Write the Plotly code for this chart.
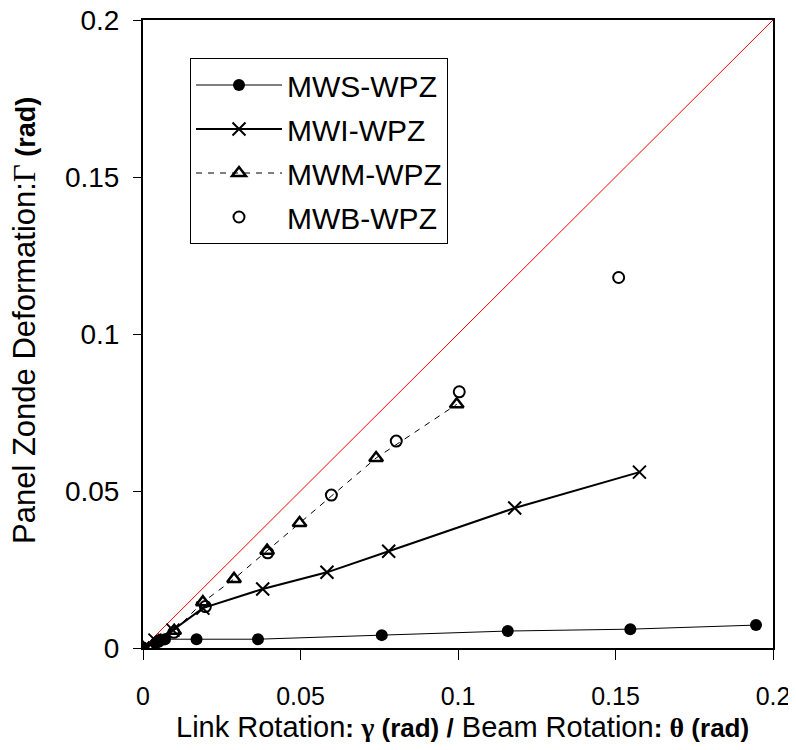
import plotly.graph_objects as go

# MWS-WPZ
mws_x = [0.0, 0.004, 0.007, 0.017, 0.0365, 0.0758, 0.1158, 0.1547, 0.1946]
mws_y = [0.0, 0.0015, 0.0028, 0.0028, 0.0028, 0.0041, 0.0054, 0.0060, 0.0073]
# MWI-WPZ
mwi_x = [0.0, 0.0038, 0.0095, 0.019, 0.038, 0.0584, 0.078, 0.118, 0.1576]
mwi_y = [0.0, 0.0025, 0.0057, 0.0127, 0.0188, 0.0241, 0.0308, 0.0446, 0.0560]
# MWM-WPZ
mwm_x = [0.0, 0.005, 0.0099, 0.019, 0.0289, 0.0394, 0.0497, 0.074, 0.0996]
mwm_y = [0.0, 0.0022, 0.0055, 0.0146, 0.0220, 0.0310, 0.0398, 0.0605, 0.0776]
# MWB-WPZ
mwb_x = [0.0, 0.005, 0.0098, 0.0198, 0.0396, 0.0598, 0.0804, 0.1004, 0.151]
mwb_y = [0.0, 0.0022, 0.0050, 0.0132, 0.0303, 0.0487, 0.0659, 0.0816, 0.118]
# reference line
ref_x = [0.0, 0.2]
ref_y = [0.0, 0.2]

x_ticks = [0, 0.05, 0.1, 0.15, 0.2]
y_ticks = [0, 0.05, 0.1, 0.15, 0.2]
tick_text = ["0", "0.05", "0.1", "0.15", "0.2"]

narrow = "Liberation Sans Narrow, Arial Narrow, sans-serif"
serif = "Liberation Serif, Times New Roman, serif"
BOLD = "<span style='font-family:Liberation Sans;font-size:26px'><b>{}</b></span>"
GREEK = "<span style='font-family:" + serif + ";font-size:28px'><b>{}</b></span>"
BOLD_Y = "<span style='font-family:Liberation Sans;font-size:27px'><b>{}</b></span>"

x_title = ("Link Rotation" + BOLD.format(": ") + GREEK.format("γ") + BOLD.format(" (rad) /")
           + " Beam Rotation" + BOLD.format(": ") + GREEK.format("θ") + BOLD.format(" (rad)"))
y_title = ("Panel Zonde Deformation:" + "<span style='font-family:" + serif + "'>Γ</span>"
           + BOLD_Y.format(" (rad)"))

fig = go.Figure()
fig.add_trace(go.Scatter(x=ref_x, y=ref_y, mode="lines", line=dict(color="red", width=1),
                         showlegend=False, hoverinfo="skip"))
fig.add_trace(go.Scatter(x=mws_x, y=mws_y, mode="lines+markers", name="MWS-WPZ", legendgroup="a",
                         line=dict(color="black", width=1),
                         marker=dict(symbol="circle", size=12, color="black")))
fig.add_trace(go.Scatter(x=mwi_x, y=mwi_y, mode="lines+markers", name="MWI-WPZ", legendgroup="b",
                         line=dict(color="black", width=2),
                         marker=dict(symbol="x-thin", size=13, color="black",
                                     line=dict(color="black", width=2))))
fig.add_trace(go.Scatter(x=mwm_x, y=mwm_y, mode="lines+markers", name="MWM-WPZ", legendgroup="c",
                         line=dict(color="black", width=1, dash="6px,6px"),
                         marker=dict(symbol="triangle-up-open", size=12, color="black",
                                     line=dict(color="black", width=2.5))))
fig.add_trace(go.Scatter(x=mwb_x, y=mwb_y, mode="markers", name="MWB-WPZ", legendgroup="d",
                         marker=dict(symbol="circle-open", size=11, color="black",
                                     line=dict(color="black", width=2))))

# page body adds an 8px offset: figure is 780x734, placed at (8, 8)
fig.update_layout(
    width=780, height=734,
    paper_bgcolor="white", plot_bgcolor="white",
    margin=dict(l=135, r=15, t=12, b=94, autoexpand=False),
    font=dict(family="Liberation Sans, Arial, sans-serif", color="black", size=22),
    legend=dict(x=(190 - 143) / 630, y=(648 - 58) / 628, xanchor="left", yanchor="top",
                bgcolor="white", bordercolor="black", borderwidth=1,
                font=dict(size=30), itemwidth=86, tracegroupgap=2,
                itemsizing="trace"),
    annotations=[
        dict(text=x_title, xref="paper", yref="paper", x=(462 - 143) / 630, y=(648 - 727) / 628,
             xanchor="center", yanchor="middle", showarrow=False,
             font=dict(family=narrow, size=29)),
        dict(text=y_title, xref="paper", yref="paper", x=(25 - 143) / 630, y=(648 - 321) / 628,
             xanchor="center", yanchor="middle", showarrow=False, textangle=-90,
             font=dict(family=narrow, size=31)),
    ],
)
fig.update_xaxes(range=[0, 0.2], tickvals=x_ticks, ticktext=tick_text, automargin=False,
                 showgrid=False, zeroline=False, showline=True, linecolor="black", linewidth=2,
                 mirror=True, ticks="outside", ticklen=10, tickcolor="black", tickwidth=1,
                 ticklabelstandoff=15, ticklabeloverflow="allow",
                 tickfont=dict(size=25))
fig.update_yaxes(range=[0, 0.2], tickvals=y_ticks, ticktext=tick_text, automargin=False,
                 showgrid=False, zeroline=False, showline=True, linecolor="black", linewidth=2,
                 mirror=True, ticks="outside", ticklen=8, tickcolor="black", tickwidth=1,
                 ticklabelstandoff=8, ticklabeloverflow="allow",
                 tickfont=dict(size=28))

fig.write_html("out.html")
